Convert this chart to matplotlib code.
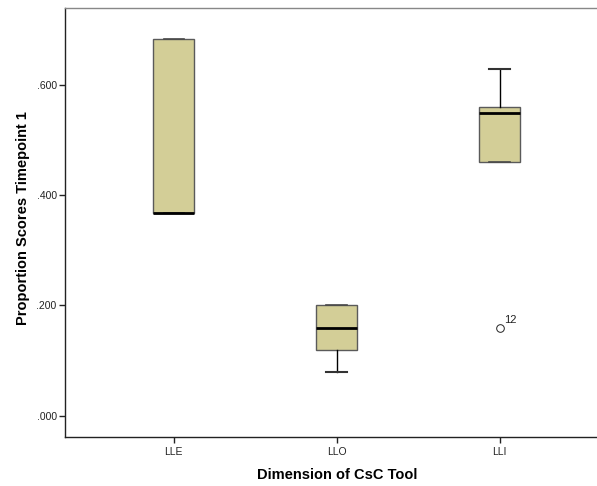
import matplotlib
matplotlib.use("Agg")
import matplotlib.pyplot as plt

plt.rcParams['font.family'] = ['Liberation Sans', 'DejaVu Sans']

categories = ["LLE", "LLO", "LLI"]
q1 = [0.368, 0.120, 0.460]
med = [0.368, 0.160, 0.550]
q3 = [0.684, 0.200, 0.560]
whislo = [0.368, 0.080, 0.460]
whishi = [0.684, 0.200, 0.630]
outliers = [[], [], [0.160]]
outlier_labels = [[], [], ["12"]]
yticks = [0.0, 0.2, 0.4, 0.6]
ytick_labels = [".000", ".200", ".400", ".600"]

stats = []
for i, c in enumerate(categories):
    stats.append(dict(label=c, q1=q1[i], med=med[i], q3=q3[i],
                      whislo=whislo[i], whishi=whishi[i], fliers=outliers[i]))

fig = plt.figure(figsize=(5.97, 4.86), dpi=100)
ax = fig.add_axes([65/597, 49/486, 1 - 65/597 + 0.002, (437-8)/486])

fill = "#D3CE97"
edge = "#5a5a5a"
bp = ax.bxp(stats, positions=[1, 2, 3], widths=0.25, patch_artist=True,
            showcaps=True,
            boxprops=dict(facecolor=fill, edgecolor=edge, linewidth=1.0),
            medianprops=dict(color="black", linewidth=2.0),
            whiskerprops=dict(color="black", linewidth=1.0),
            capprops=dict(color="#333333", linewidth=1.5),
            capwidths=0.125,
            flierprops=dict(marker="o", markerfacecolor="white", markeredgecolor="#222222",
                            markersize=5.5, markeredgewidth=0.7))

# caps on zero-length whiskers blend into box edge
for i in range(len(categories)):
    lo_cap, hi_cap = bp["caps"][2 * i], bp["caps"][2 * i + 1]
    if whislo[i] == q1[i]:
        lo_cap.set_color("#4a4a4a"); lo_cap.set_linewidth(1.2)
    if whishi[i] == q3[i]:
        hi_cap.set_color("#4a4a4a"); hi_cap.set_linewidth(1.2)

for i, (vals, labs) in enumerate(zip(outliers, outlier_labels)):
    for v, l in zip(vals, labs):
        ax.annotate(l, (i + 1, v), xytext=(3.5, 3), textcoords="offset points",
                    fontsize=8, color="#222222")

ax.set_xlim(0.332, 3.606)
ax.set_ylim(-0.0387, 0.740)
ax.set_yticks(yticks)
ax.set_yticklabels(ytick_labels)
ax.set_xticks([1, 2, 3])
ax.set_xticklabels(categories)
ax.tick_params(axis="both", labelsize=7.5, colors="#222222", length=4, width=1)
ax.tick_params(axis="x", direction="out", length=4, pad=3)
ax.tick_params(axis="y", direction="out", length=4, pad=2)

ax.spines["right"].set_visible(False)
ax.spines["top"].set_color("#888888")
ax.spines["left"].set_color("#222222")
ax.spines["bottom"].set_color("#222222")
for s in ax.spines.values():
    s.set_linewidth(1.0)

ax.set_xlabel("Dimension of CsC Tool", fontsize=10.5, fontweight="bold")
ax.set_ylabel("Proportion Scores Timepoint 1", fontsize=10.5, fontweight="bold")
ax.xaxis.set_label_coords(0.51, -0.072)
ax.yaxis.set_label_coords(-0.066, 0.51)

fig.savefig("out.png", dpi=100)
